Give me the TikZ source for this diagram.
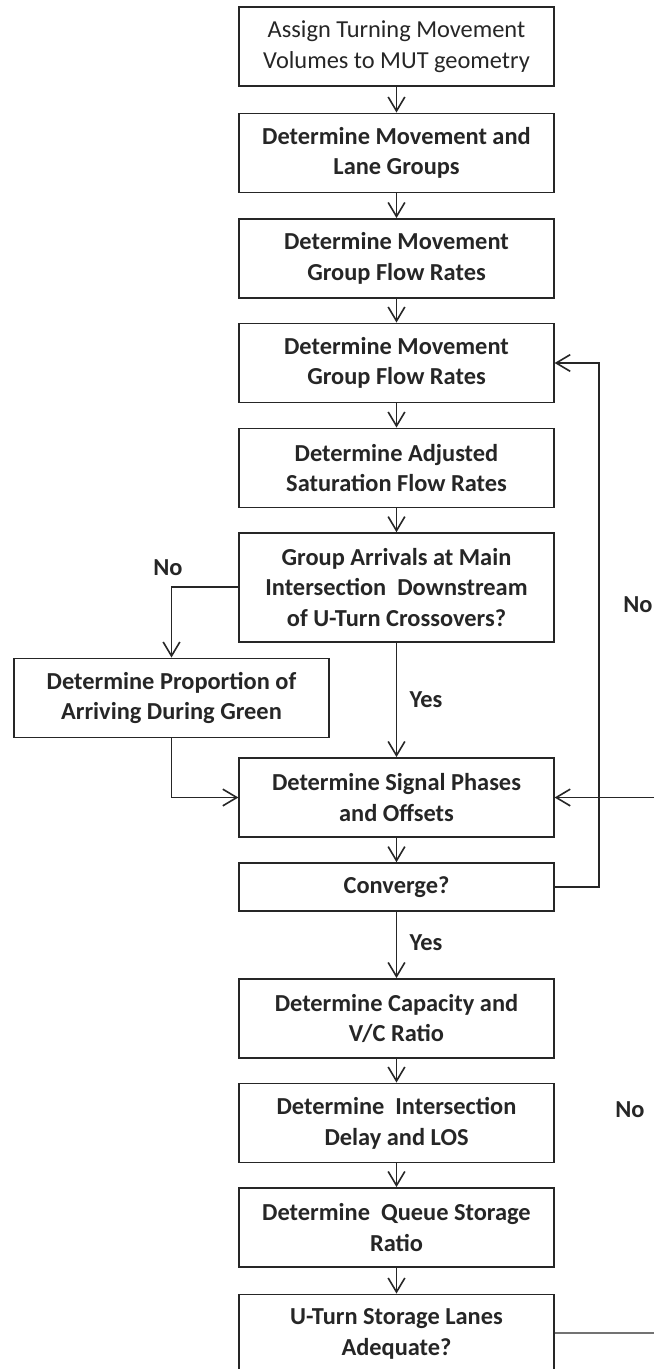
\documentclass[tikz,border=0pt]{standalone}
\usepackage{fontspec}
\setmainfont{Carlito}
\usetikzlibrary{arrows.meta}

\begin{document}
\begin{tikzpicture}[x=0.75pt, y=-0.75pt,
        flowbox/.style={draw=black!85, line width=1.2pt, minimum width=236pt,
            minimum height=59.5pt, inner sep=0pt, align=center,
            font=\fontsize{18.3}{23}\selectfont\bfseries, text=black!85},
        lbl/.style={font=\fontsize{18.3}{23}\selectfont\bfseries, text=black!85},
        flow/.style={draw=black!85, line width=1.2pt,
            -{Straight Barb[length=10.5pt, width=12.5pt]}}]
    \fill[white] (0, 0) rectangle (654, 1369);
    \useasboundingbox (0, 0) rectangle (654, 1369);
    % main column
    \node[flowbox, font=\fontsize{18.3}{23}\selectfont] (assign) at (396.5, 46.5)
        {Assign Turning Movement\\Volumes to MUT geometry};
    \node[flowbox] (lanes) at (396.5, 153) {Determine Movement and\\Lane Groups};
    \node[flowbox] (rates1) at (396.5, 258.5) {Determine Movement\\Group Flow Rates};
    \node[flowbox] (rates2) at (396.5, 363) {Determine Movement\\Group Flow Rates};
    \node[flowbox] (satur) at (396.5, 468) {Determine Adjusted\\Saturation Flow Rates};
    \node[flowbox, minimum height=81.75pt] (arrive) at (396.5, 587.5)
        {Group Arrivals at Main\\Intersection~ Downstream\\of U-Turn Crossovers?};
    \node[flowbox] (propor) at (171.5, 698) {Determine Proportion of\\Arriving During Green};
    \node[flowbox] (phases) at (396.5, 797.5) {Determine Signal Phases\\and Offsets};
    \node[flowbox, minimum height=36pt] (conv) at (396.5, 887) {Converge?};
    \node[flowbox] (capac) at (396.5, 1018.5) {Determine Capacity and\\V/C Ratio};
    \node[flowbox] (delay) at (396.5, 1123) {Determine~ Intersection\\Delay and LOS};
    \node[flowbox] (queue) at (396.5, 1227.5) {Determine~ Queue Storage\\Ratio};
    \node[flowbox] (uturn) at (396.5, 1334) {U-Turn Storage Lanes\\Adequate?};
    % labels
    \node[lbl] (no1) at (168, 568) {No};
    \node[lbl] (yes1) at (426, 700) {Yes};
    \node[lbl] (no2) at (638, 605) {No};
    \node[lbl] (yes2) at (426, 943) {Yes};
    \node[lbl] (no3) at (630, 1110) {No};
    % free ends at the right edge
    \coordinate (edge1) at (654, 797.5);
    \coordinate (edge2) at (654, 1333);
    % connectors
    \draw[flow] (assign) -- (lanes);
    \draw[flow] (lanes) -- (rates1);
    \draw[flow] (rates1) -- (rates2);
    \draw[flow] (rates2) -- (satur);
    \draw[flow] (satur) -- (arrive);
    \draw[flow] (arrive) -- (phases);
    \draw[flow] (arrive.west |- 0, 587) -| (propor.north);
    \draw[flow] (propor.south) |- (phases.west);
    \draw[flow] (phases) -- (conv);
    \draw[flow] (conv.east) -- (599, 887) |- (rates2.east);
    \draw[flow] (edge1) -- (phases.east);
    \draw[flow] (conv) -- (capac);
    \draw[flow] (capac) -- (delay);
    \draw[flow] (delay) -- (queue);
    \draw[flow] (queue) -- (uturn);
    \draw[black!55, line width=1.2pt] (uturn.east |- edge2) -- (edge2);
\end{tikzpicture}
\end{document}
